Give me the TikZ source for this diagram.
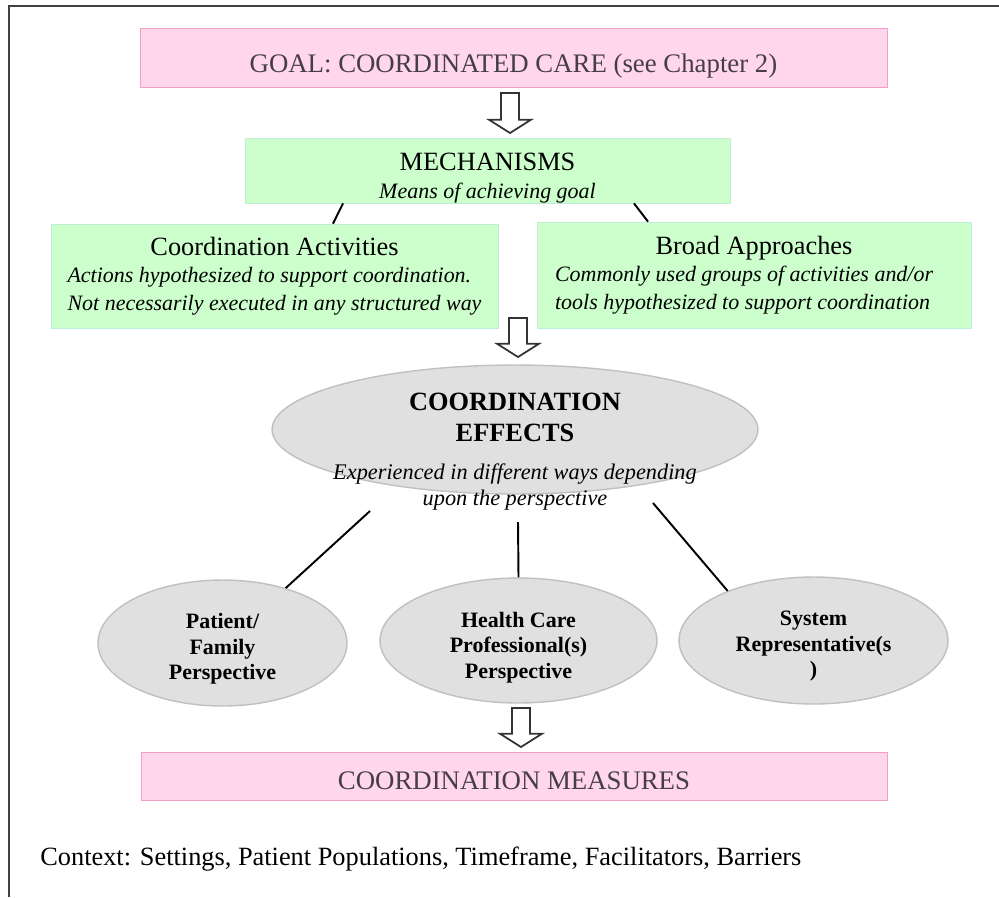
\documentclass[tikz,border=0pt]{standalone}
\usepackage{fontspec}
\setmainfont{Liberation Serif}
\usetikzlibrary{shapes.geometric,calc}
\definecolor{goalfill}{RGB}{255,214,236}
\definecolor{goalline}{RGB}{242,160,200}
\definecolor{goalink}{RGB}{70,62,70}
\definecolor{mechfill}{RGB}{204,255,204}
\definecolor{mechline}{RGB}{190,238,214}
\definecolor{efffill}{RGB}{224,224,224}
\definecolor{effline}{RGB}{192,192,192}
\newcommand{\hollowdown}[2]{%
  \draw[line width=1pt,black!80,fill=white,line join=miter] let \p1=(#1), \p2=(#2) in
    (\x1-5.1pt,\y1) -- (\x1+5.1pt,\y1) -- (\x1+5.1pt,\y2+7.6pt) -- (\x1+12pt,\y2+7.6pt)
    -- (\x1,\y2) -- (\x1-12pt,\y2+7.6pt) -- (\x1-5.1pt,\y2+7.6pt) -- cycle;}
\begin{document}
\begin{tikzpicture}[x=0.02cm,y=-0.02cm,
  goalbox/.style={draw=goalline,fill=goalfill},
  goallabel/.style={text=goalink,font=\fontsize{15.25}{18}\selectfont},
  mechbox/.style={draw=mechline,fill=mechfill},
  mechlabel/.style={align=center,font=\fontsize{12.5}{15.9}\selectfont\itshape},
  effell/.style={ellipse,draw=effline,fill=efffill,line width=0.8pt},
  persplabel/.style={align=center,font=\fontsize{12.5}{14.5}\selectfont\bfseries},
  link/.style={line width=1.1pt}]
\useasboundingbox (0,0) rectangle (999,897);
\draw[line width=1.1pt,black!75] (9,897) -- (9,6) -- (999,6);

\node[goalbox,minimum width=14.94cm,minimum height=1.18cm] (goal) at (513.5,57.5) {};
\node[goallabel] (goaltxt) at ($(goal)+(0,9)$) {GOAL: COORDINATED CARE (see Chapter 2)};
\node[mechbox,minimum width=9.7cm,minimum height=1.3cm] (mech) at (487.5,170.5) {};
\node[mechlabel] (mechtxt) at ($(mech)+(0,8)$)
  {{\upshape\fontsize{15}{18}\selectfont MECHANISMS}\\Means of achieving goal};
\node[mechbox,minimum width=8.94cm,minimum height=2.08cm] (act) at (274.5,276) {};
\node[mechlabel] (acttxt) at ($(act)+(0,2)$)
  {{\upshape\fontsize{15}{18}\selectfont Coordination Activities}\\
   \begin{tabular}[t]{@{}l@{}}Actions hypothesized to support coordination.\\
   Not necessarily executed in any structured way\end{tabular}};
\node[mechbox,minimum width=8.68cm,minimum height=2.12cm] (broad) at (754,275) {};
\node[mechlabel] (broadtxt) at ($(broad)+(0,2)$)
  {{\upshape\fontsize{15}{18}\selectfont Broad Approaches}\\
   \begin{tabular}[t]{@{}l@{\hspace{11.3pt}}}Commonly used groups of activities and/or\\
   tools hypothesized to support coordination\end{tabular}};

\node[effell,minimum width=9.72cm,minimum height=2.58cm] (eff) at (515,429.5) {};
\node[align=center,font=\fontsize{15}{17.6}\selectfont\bfseries] (efftxt) at (515,451.5)
  {COORDINATION\\EFFECTS\\[4.3pt]
   {\mdseries\itshape\fontsize{12.7}{15}\selectfont Experienced in different ways depending}\\[-3pt]
   {\mdseries\itshape\fontsize{12.7}{15}\selectfont upon the perspective}};

\node[effell,minimum width=4.98cm,minimum height=2.52cm] (pat) at (222.5,643) {};
\node[persplabel] (pattxt) at ($(pat)+(0,6)$) {Patient/\\Family\\Perspective};
\node[effell,minimum width=5.54cm,minimum height=2.5cm] (hcp) at (518.5,640.5) {};
\node[persplabel] (hcptxt) at ($(hcp)+(0,7)$) {Health Care\\Professional(s)\\Perspective};
\node[effell,minimum width=5.38cm,minimum height=2.54cm] (sys) at (813.5,640.5) {};
\node[persplabel] (systxt) at ($(sys)+(0,6)$) {System\\Representative(s\\)};

\node[goalbox,minimum width=14.92cm,minimum height=0.96cm] (meas) at (514,776) {};
\node[goallabel] (meastxt) at ($(meas)+(0,5)$) {COORDINATION MEASURES};
\node[anchor=base west,inner sep=0pt,font=\fontsize{15}{18}\selectfont] (ctx) at (40,865)
  {Context: Settings, Patient Populations, Timeframe, Facilitators, Barriers};

\draw[link] ([xshift=-2.89cm]mech.south) -- ([xshift=1.17cm]act.north);
\draw[link] ([xshift=2.93cm]mech.south) -- ([xshift=-2.12cm]broad.north);
\coordinate (e1) at (370,511);
\coordinate (e2) at (518,522);
\coordinate (e3) at (653,503);
\draw[link] (e1) -- (pat.41);
\draw[link] (e2) -- (hcp.north);
\draw[link] (e3) -- (sys.150);

\coordinate (a1) at (510,93);
\coordinate (a1t) at (510,133);
\coordinate (a2) at (518,318);
\coordinate (a2t) at (518,357);
\coordinate (a3) at (521,708);
\coordinate (a3t) at (521,747);
\hollowdown{a1}{a1t}
\hollowdown{a2}{a2t}
\hollowdown{a3}{a3t}
\end{tikzpicture}
\end{document}
